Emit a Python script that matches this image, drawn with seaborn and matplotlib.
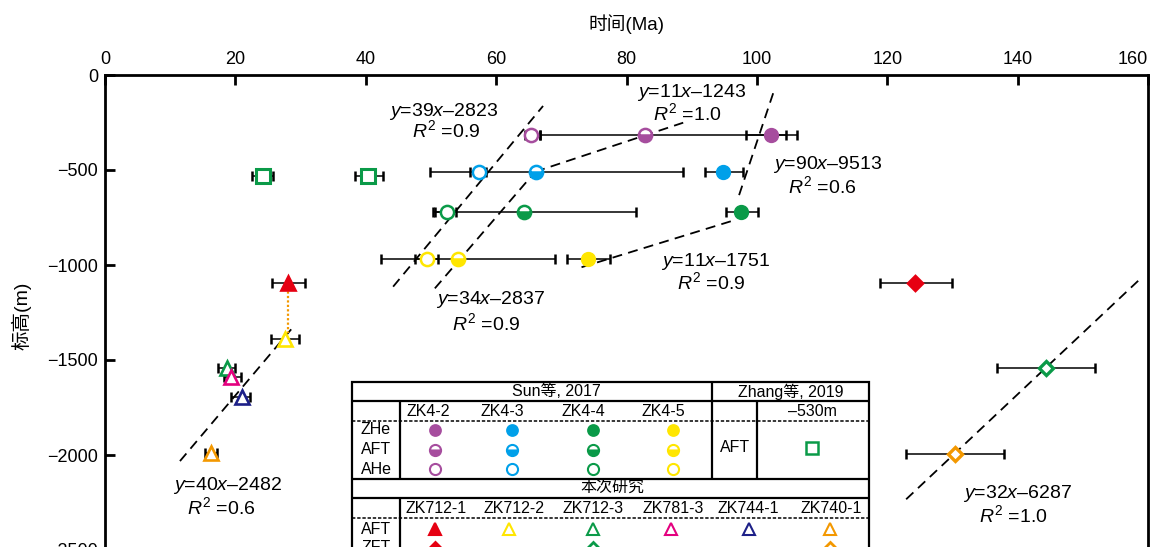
import numpy as np
import pandas as pd
import matplotlib
matplotlib.use("Agg")
import matplotlib.pyplot as plt
import seaborn as sns

# ---------------- data ----------------
sun_wells = ["ZK4-2", "ZK4-3", "ZK4-4", "ZK4-5"]
sun_colors = ["#A64D9E", "#00A0E9", "#0A9A48", "#FFE600"]
sun_elev = [-315, -508, -720, -970]
sun_zhe = [102.1, 94.8, 97.6, 74.1]
sun_zhe_min = [98.3, 92.0, 95.3, 70.8]
sun_zhe_max = [104.5, 97.9, 100.2, 77.4]
sun_aft = [82.9, 66.1, 64.2, 54.1]
sun_aft_min = [66.8, 49.9, 50.3, 42.4]
sun_aft_max = [106.1, 88.7, 81.4, 69.0]
sun_ahe = [65.3, 57.3, 52.5, 49.4]
sun_ahe_min = [64.4, 56.0, 50.6, 47.5]
sun_ahe_max = [66.8, 58.4, 53.8, 51.1]

zhang_color = "#0A9A48"
zhang_elev = [-530, -530]
zhang_aft = [24.2, 40.4]
zhang_min = [22.5, 38.3]
zhang_max = [25.8, 42.6]

this_wells = ["ZK712-1", "ZK712-2", "ZK712-3", "ZK781-3", "ZK744-1", "ZK740-1"]
this_colors = ["#E60012", "#FFE600", "#0A9A48", "#E4007F", "#1D2088", "#F39800"]
this_filled = [True, False, False, False, False, False]
aft_elev = [-1095, -1390, -1540, -1590, -1693, -1990]
aft_age = [28.1, 27.6, 18.7, 19.4, 21.0, 16.2]
aft_min = [25.6, 25.5, 17.4, 18.3, 19.3, 15.3]
aft_max = [30.7, 29.8, 20.0, 20.8, 22.2, 17.2]

zft_wells = ["ZK712-1", "ZK712-3", "ZK740-1"]
zft_colors = ["#E60012", "#0A9A48", "#F39800"]
zft_filled = [True, False, False]
zft_elev = [-1096, -1544, -1996]
zft_age = [124.3, 144.4, 130.4]
zft_min = [118.9, 136.8, 122.9]
zft_max = [130.0, 151.9, 137.9]

# fitted trend lines (end points as drawn)
fit_x0 = [44.2, 50.6, 66.0, 102.5, 96.0, 11.5, 122.9]
fit_x1 = [67.2, 66.0, 88.7, 97.0, 72.6, 28.6, 158.9]
fit_y0 = [-1114, -1123, -509, -96, -770, -2032, -2233]
fit_y1 = [-163, -509, -251, -660, -1017, -1337, -1070]
fit_eq = ["39$x$\u20132823", "34$x$\u20132837", "11$x$\u20131243", "90$x$\u20139513",
          "11$x$\u20131751", "40$x$\u20132482", "32$x$\u20136287"]
fit_r2 = ["0.9", "0.9", "1.0", "0.6", "0.9", "0.6", "1.0"]
# label anchor positions (data units): equation line and R2 line
eq_pos = [(52.0, -190), (59.1, -1184), (90.0, -90), (110.9, -469),
          (93.6, -979), (18.8, -2163), (140.0, -2200)]
r2_pos = [(52.3, -292), (58.4, -1308), (89.3, -203), (110.1, -587),
          (93.0, -1092), (17.9, -2277), (139.4, -2319)]

x_ticks = [0, 20, 40, 60, 80, 100, 120, 140, 160]
y_ticks = [0, -500, -1000, -1500, -2000, -2500, -3000]

# ---------------- style ----------------
sns.set_theme(style="ticks", rc={
    "axes.edgecolor": "black", "xtick.color": "black", "ytick.color": "black",
    "text.color": "black", "axes.labelcolor": "black"})
plt.rcParams["font.family"] = ["Liberation Sans", "Noto Sans CJK SC", "DejaVu Sans"]
plt.rcParams["mathtext.fontset"] = "custom"
plt.rcParams["mathtext.rm"] = "Liberation Sans"
plt.rcParams["mathtext.it"] = "Liberation Sans:italic"
plt.rcParams["mathtext.default"] = "it"

W, H = 1151, 547
fig = plt.figure(figsize=(W / 100, H / 100), dpi=100)
fig.patch.set_facecolor("white")
ax = fig.add_axes([105 / W, (H - 645) / H, 1043 / W, 570 / H])
ax.set_facecolor("white")

# trend lines via seaborn
rows = []
for i in range(len(fit_x0)):
    rows.append({"x": fit_x0[i], "y": fit_y0[i], "id": i})
    rows.append({"x": fit_x1[i], "y": fit_y1[i], "id": i})
df_fit = pd.DataFrame(rows)
sns.lineplot(data=df_fit, x="x", y="y", units="id", estimator=None, sort=False,
             color="black", linestyle=(0, (5.5, 3.5)), linewidth=1.3, legend=False,
             ax=ax, zorder=2)

for i in range(len(fit_eq)):
    ax.text(*eq_pos[i], "$y$=" + fit_eq[i], ha="center", va="center", fontsize=14, zorder=6)
    ax.text(*r2_pos[i], "$R^2$ =" + fit_r2[i], ha="center", va="center", fontsize=14, zorder=6)

# connecting dotted line between ZK712-1 and ZK712-2 AFT
ax.plot([aft_age[0], aft_age[0]], [aft_elev[0] - 20, aft_elev[1] + 30], color="#F39800",
        linestyle=(0, (1, 1)), linewidth=1.6, zorder=2)

eb = dict(fmt="none", ecolor="black", elinewidth=1.1, capsize=3.5, capthick=1.8, zorder=3)


def xerr(vals, lo, hi):
    v = np.array(vals)
    return [v - np.array(lo), np.array(hi) - v]


# Sun et al. 2017
ax.errorbar(sun_aft, sun_elev, xerr=xerr(sun_aft, sun_aft_min, sun_aft_max), **eb)
ax.errorbar(sun_ahe, sun_elev, xerr=xerr(sun_ahe, sun_ahe_min, sun_ahe_max), **eb)
ax.errorbar(sun_zhe, sun_elev, xerr=xerr(sun_zhe, sun_zhe_min, sun_zhe_max), **eb)
for i, c in enumerate(sun_colors):
    ax.plot(sun_zhe[i], sun_elev[i], "o", ms=9.5, mfc=c, mec=c, mew=1.5, zorder=5)
    ax.plot(sun_aft[i], sun_elev[i], "o", ms=9.5, mfc=c, mec=c, mew=1.8,
            fillstyle="bottom", markerfacecoloralt="white", zorder=5)
    ax.plot(sun_ahe[i], sun_elev[i], "o", ms=9.5, mfc="white", mec=c, mew=1.8, zorder=5)

# Zhang et al. 2019
ax.errorbar(zhang_aft, zhang_elev, xerr=xerr(zhang_aft, zhang_min, zhang_max), **eb)
ax.plot(zhang_aft, zhang_elev, "s", ms=9.5, mfc="white", mec=zhang_color, mew=2.2,
        linestyle="none", zorder=5)

# This study
ax.errorbar(aft_age, aft_elev, xerr=xerr(aft_age, aft_min, aft_max), **eb)
ax.errorbar(zft_age, zft_elev, xerr=xerr(zft_age, zft_min, zft_max), **eb)
for i, c in enumerate(this_colors):
    ax.plot(aft_age[i], aft_elev[i], "^", ms=9.5, mfc=c if this_filled[i] else "white",
            mec=c, mew=1.9, zorder=5)
for i, c in enumerate(zft_colors):
    ax.plot(zft_age[i], zft_elev[i], "D", ms=7.5, mfc=c if zft_filled[i] else "white",
            mec=c, mew=2.4, zorder=5)

ax.set_xlim(0, 160)
ax.set_ylim(-3000, 0)
ax.set_xticks(x_ticks)
ax.set_yticks(y_ticks)
ax.xaxis.tick_top()
ax.xaxis.set_label_position("top")
ax.tick_params(axis="both", direction="in", length=7, width=2, labelsize=13, pad=5)
ax.tick_params(axis="x", top=True, bottom=False, labeltop=True, labelbottom=False)
ax.tick_params(axis="y", left=True, right=False)
for s in ax.spines.values():
    s.set_linewidth(2)
    s.set_color("black")
ax.set_xlabel("时间(Ma)", fontsize=13.5)
ax.xaxis.label.set_verticalalignment("baseline")
ax.xaxis.set_label_coords(0.5, (645 - 30) / 570)
ax.set_ylabel("标高(m)", fontsize=14)
ax.yaxis.set_label_coords((31 - 105) / 1043, (645 - 316) / 570)
fig.canvas.draw()
ax.get_xticklabels()[-1].set_horizontalalignment("right")

# ---------------- legend table (pixel coordinates overlay) ----------------
lax = fig.add_axes([0, 0, 1, 1], zorder=10)
lax.set_xlim(0, W)
lax.set_ylim(H, 0)
lax.axis("off")
L, R, T, B = 352, 869, 382, 620
lax.add_patch(plt.Rectangle((L, T), R - L, B - T, facecolor="white", edgecolor="black",
                            linewidth=1.6, clip_on=False))
lw = 1.6
hl = dict(color="black", linewidth=lw, clip_on=False, solid_capstyle="butt")
dl = dict(color="black", linewidth=1.1, linestyle=(0, (2.2, 1.2)), clip_on=False)
lax.plot([L, R], [401, 401], **hl)
lax.plot([L, R], [478.5, 478.5], **hl)
lax.plot([L, R], [497.5, 497.5], **hl)
lax.plot([L, R], [420.5, 420.5], **dl)
lax.plot([L, R], [517.5, 517.5], **dl)
lax.plot([400, 400], [401, 478.5], **hl)
lax.plot([400, 400], [497.5, B], **hl)
lax.plot([712, 712], [T, 478.5], **hl)
lax.plot([757, 757], [401, 478.5], **hl)

tfs = 11.5
tk = dict(ha="center", va="center", fontsize=tfs, clip_on=False)
lax.text(556, 391.5, "Sun等, 2017", **tk)
lax.text(791, 391.5, "Zhang等, 2019", **tk)
sun_text_x = [428.5, 502.6, 583, 663.5]
sun_mark_x = [434.8, 512.4, 593.4, 672.8]
for i, w in enumerate(sun_wells):
    lax.text(sun_text_x[i], 411, w, **tk)
    c = sun_colors[i]
    lax.plot(sun_mark_x[i], 430, "o", ms=8, mfc=c, mec=c, mew=1.2, clip_on=False)
    lax.plot(sun_mark_x[i], 449.5, "o", ms=8, mfc=c, mec=c, mew=1.5, fillstyle="bottom",
             markerfacecoloralt="white", clip_on=False)
    lax.plot(sun_mark_x[i], 469, "o", ms=8, mfc="white", mec=c, mew=1.5, clip_on=False)
for lab, yy in zip(["ZHe", "AFT", "AHe"], [430, 449.5, 469]):
    lax.text(376, yy, lab, **tk)
lax.text(812, 411, "\u2013530m", **tk)
lax.text(735, 448, "AFT", **tk)
lax.plot(812, 448, "s", ms=8, mfc="white", mec=zhang_color, mew=1.8, clip_on=False)
lax.text(612, 488.5, "本次研究", **tk)
this_text_x = [435.7, 514, 592.6, 673, 748.6, 831.6]
this_mark_x = [434.8, 509, 593.4, 671, 748.6, 829.7]
for i, w in enumerate(this_wells):
    lax.text(this_text_x[i], 508.5, w, **tk)
    c = this_colors[i]
    lax.plot(this_mark_x[i], 529, "^", ms=8, mfc=c if this_filled[i] else "white",
             mec=c, mew=1.5, clip_on=False)
for i, w in enumerate(zft_wells):
    c = zft_colors[i]
    xm = this_mark_x[this_wells.index(w)]
    lax.plot(xm, 548, "D", ms=6.5, mfc=c if zft_filled[i] else "white",
             mec=c, mew=2.0, clip_on=False)
lax.text(376, 529, "AFT", **tk)
lax.text(376, 548, "ZFT", **tk)

fig.savefig("out.png", dpi=100)
